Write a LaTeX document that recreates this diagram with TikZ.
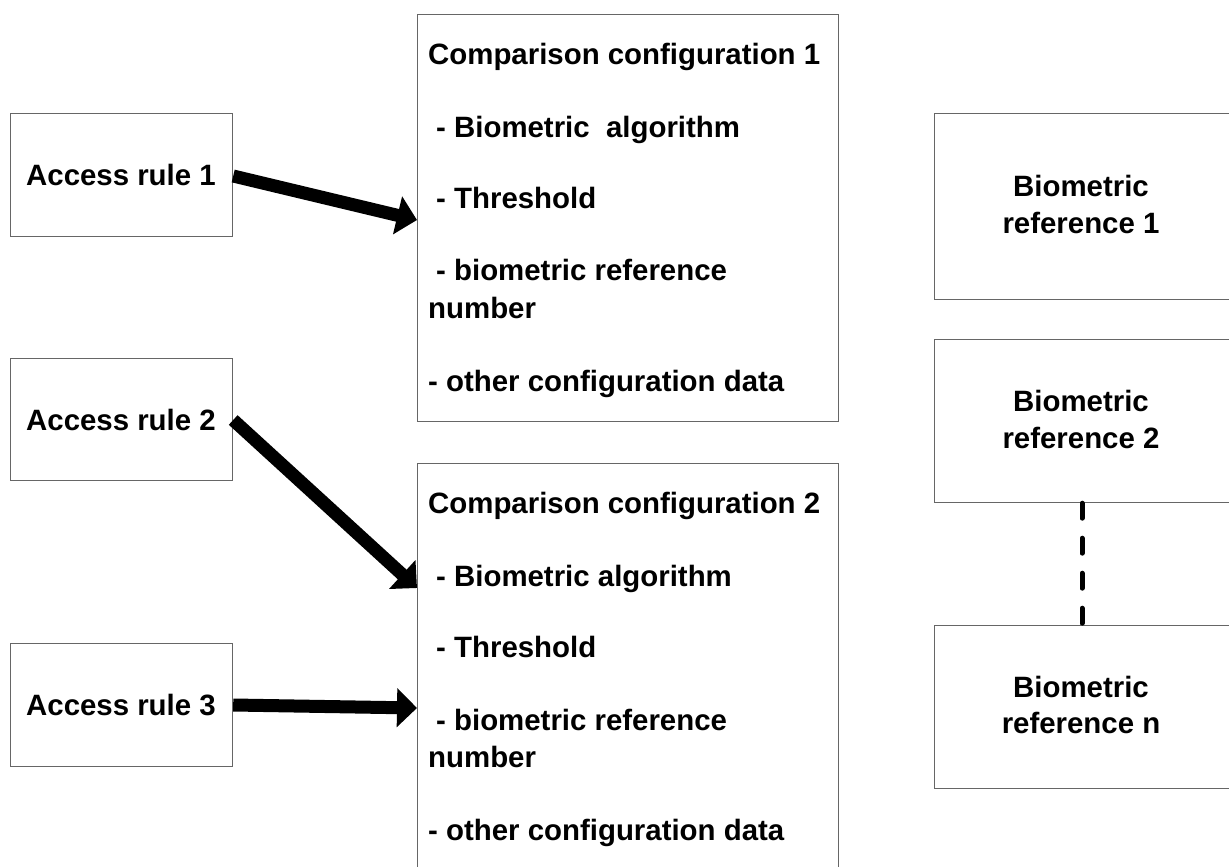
\documentclass[tikz,border=0pt]{standalone}
\usepackage{fontspec}
\setmainfont{Liberation Sans}
\usetikzlibrary{arrows.meta}
\tikzset{
  box/.style={draw=black!60, line width=1.2pt, anchor=north west, inner sep=0pt},
  txt/.style={anchor=base west, inner sep=0pt, font=\fontsize{29.4}{36}\selectfont\bfseries},
  ctxt/.style={anchor=base, inner sep=0pt, font=\fontsize{29.4}{36}\selectfont\bfseries},
  bigarrow/.style={line width=13pt, -{Triangle[length=20pt,width=38pt]}},
  chain/.style={line width=5pt, dash pattern=on 15pt off 20pt, line cap=round}
}
\begin{document}
\begin{tikzpicture}[x=1pt, y=-1pt]
\useasboundingbox (0,0) rectangle (1229,867);
\clip (0,0) rectangle (1229,867);

% access rules
\node[box, minimum width=222pt, minimum height=123pt] (a1) at (10,113) {};
\node[box, minimum width=222pt, minimum height=122pt] (a2) at (10,358) {};
\node[box, minimum width=222pt, minimum height=123pt] (a3) at (10,643) {};
\node[txt] (a1t) at (26,185) {Access rule 1};
\node[txt] (a2t) at (26,430) {Access rule 2};
\node[txt] (a3t) at (26,715) {Access rule 3};

% comparison configurations
\node[box, minimum width=421pt, minimum height=407pt] (c1) at (417,14) {};
\node[box, minimum width=421pt, minimum height=430pt] (c2) at (417,463) {};

\node[txt] (c1l1) at (428,65) {Comparison configuration 1};
\node[txt] (c1l2) at (436,137) {- Biometric\ \ algorithm};
\node[txt] (c1l3) at (436,208) {- Threshold};
\node[txt] (c1l4) at (436,280) {- biometric reference};
\node[txt] (c1l5) at (428,318) {number};
\node[txt] (c1l6) at (428,391) {- other configuration data};

\node[txt] (c2l1) at (428,513) {Comparison configuration 2};
\node[txt] (c2l2) at (436,586) {- Biometric algorithm};
\node[txt] (c2l3) at (436,657) {- Threshold};
\node[txt] (c2l4) at (436,730) {- biometric reference};
\node[txt] (c2l5) at (428,767) {number};
\node[txt] (c2l6) at (428,840) {- other configuration data};

% biometric references
\node[box, minimum width=320pt, minimum height=186pt] (b1) at (934,113) {};
\node[box, minimum width=320pt, minimum height=163pt] (b2) at (934,339) {};
\node[box, minimum width=320pt, minimum height=163pt] (bn) at (934,625) {};
\node[ctxt] (b1a) at (1081,196) {Biometric};
\node[ctxt] (b1b) at (1081,233) {reference 1};
\node[ctxt] (b2a) at (1081,411) {Biometric};
\node[ctxt] (b2b) at (1081,448) {reference 2};
\node[ctxt] (bna) at (1081,697) {Biometric};
\node[ctxt] (bnb) at (1081,733) {reference n};

% arrow targets on the configuration boxes
\coordinate (t1) at (c1.west |- 0,220);
\coordinate (t2) at (c2.west |- 0,588);
\coordinate (t3) at (c2.west |- 0,708);

\draw[bigarrow] (a1.east |- 0,176) -- (t1);
\draw[bigarrow] (a2.east |- 0,420) -- (t2);
\draw[bigarrow] (a3.east |- 0,705) -- (t3);

% dashed link between reference 2 and reference n
\coordinate (d1) at (b2.south -| 1082,0);
\coordinate (d2) at (bn.north -| 1082,0);
\draw[chain] (d1) -- (d2);
\end{tikzpicture}
\end{document}
